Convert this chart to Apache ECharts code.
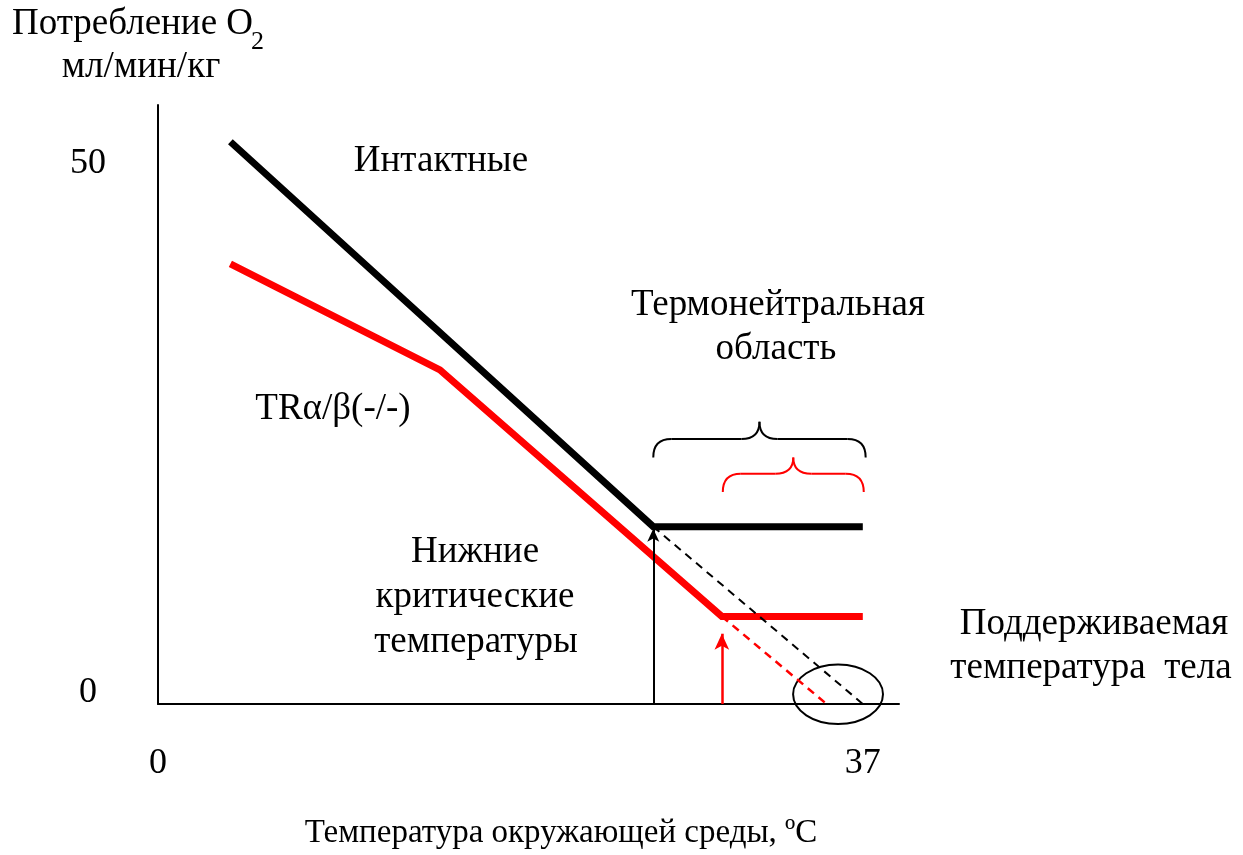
<!DOCTYPE html>
<html>
<head>
<meta charset="utf-8">
<script src="https://cdn.jsdelivr.net/npm/echarts@6/dist/echarts.min.js"></script>
<style>
    html, body { margin: 0; background: #fff; }
    #chart { width: 1243px; height: 855px; }
</style>
</head>
<body>
<div id="chart"></div>
<script>
// tick labels
var xTicks = [0, 37];
var yTicks = [0, 50];
// O2 consumption, intact animals
var intactLine = [[3.8, 52], [26, 16.4], [37, 16.4]];
// O2 consumption, TRa/b knockout
var knockoutLine = [[3.8, 40.7], [14.8, 30.9], [29.6, 8.1], [37, 8.1]];
// extrapolation to zero consumption
var intactExtrap = [[26, 16.4], [37, 0]];
var knockoutExtrap = [[29.6, 8.1], [35.1, 0]];
// lower critical temperature arrows
var intactArrow = [[26, 0], [26, 16.2]];
var knockoutArrow = [[29.6, 0], [29.6, 6.5]];

var FONT = "'Liberation Serif', 'Times New Roman', serif";
var RED = '#ff0000';

var chart = echarts.init(document.getElementById('chart'));

chart.setOption({
    animation: false,
    backgroundColor: '#fff',
    grid: { left: 158, right: 344, top: 105, bottom: 151 },
    xAxis: {
        type: 'value',
        min: 0,
        max: 38.9,
        splitLine: { show: false },
        axisTick: { show: false },
        axisLine: { lineStyle: { color: '#000', width: 2 } },
        axisLabel: {
            customValues: xTicks,
            margin: 42,
            color: '#000',
            fontSize: 36,
            fontFamily: FONT
        }
    },
    yAxis: {
        type: 'value',
        min: 0,
        max: 55.4,
        splitLine: { show: false },
        axisTick: { show: false },
        axisLine: { lineStyle: { color: '#000', width: 2 } },
        axisLabel: {
            customValues: yTicks,
            margin: 70,
            align: 'center',
            color: '#000',
            fontSize: 36,
            fontFamily: FONT,
            formatter: function (v) {
                return v === 0 ? '{z|0}' : '{n|' + v + '}';
            },
            rich: {
                z: { fontSize: 36, fontFamily: FONT, color: '#000', padding: [0, 0, 22, 0] },
                n: { fontSize: 36, fontFamily: FONT, color: '#000' }
            }
        }
    },
    series: [
        {
            type: 'line',
            data: intactLine,
            symbol: 'none',
            lineStyle: { color: '#000', width: 7, join: 'miter' }
        },
        {
            type: 'line',
            data: knockoutLine,
            symbol: 'none',
            lineStyle: { color: RED, width: 7, join: 'miter' }
        },
        {
            type: 'line',
            data: intactExtrap,
            symbol: 'none',
            lineStyle: { color: '#000', width: 2, type: [8, 6] }
        },
        {
            type: 'line',
            data: knockoutExtrap,
            symbol: 'none',
            lineStyle: { color: RED, width: 2.5, type: [8, 6] }
        },
        {
            type: 'line',
            data: [],
            markLine: {
                silent: true,
                symbol: ['none', 'arrow'],
                symbolSize: [9, 13],
                label: { show: false },
                lineStyle: { color: '#000', width: 2, type: 'solid' },
                data: [[{ coord: intactArrow[0] }, { coord: intactArrow[1] }]]
            }
        },
        {
            type: 'line',
            data: [],
            markLine: {
                silent: true,
                symbol: ['none', 'arrow'],
                symbolSize: [11, 16],
                label: { show: false },
                lineStyle: { color: RED, width: 2.5, type: 'solid' },
                data: [[{ coord: knockoutArrow[0] }, { coord: knockoutArrow[1] }]]
            }
        }
    ]
});

function toPx(x, y) {
    return chart.convertToPixel({ gridIndex: 0 }, [x, y]);
}

// фигурная скобка над термонейтральной областью
function brace(x0, x1, base, bar, tip, color) {
    var a = toPx(x0, base), b = toPx(x1, base);
    var yh = toPx(0, bar)[1], yt = toPx(0, tip)[1];
    var xm = (a[0] + b[0]) / 2, r = 18;
    var st = { stroke: color, lineWidth: 2, fill: null };
    function curve(x1, y1, x2, y2, cx, cy) {
        return { type: 'bezierCurve', shape: { x1: x1, y1: y1, x2: x2, y2: y2, cpx1: cx, cpy1: cy }, style: st };
    }
    function seg(x1, y1, x2, y2) {
        return { type: 'line', shape: { x1: x1, y1: y1, x2: x2, y2: y2 }, style: st };
    }
    return [
        curve(a[0], a[1], a[0] + r, yh, a[0], yh),
        seg(a[0] + r, yh, xm - r, yh),
        curve(xm - r, yh, xm, yt, xm, yh),
        curve(xm, yt, xm + r, yh, xm, yh),
        seg(xm + r, yh, b[0] - r, yh),
        curve(b[0] - r, yh, b[0], b[1], b[0], yh)
    ];
}

function label(text, x, y, align, size) {
    return {
        type: 'text',
        x: x,
        y: y,
        style: {
            text: text,
            fill: '#000',
            font: (size || 37) + 'px ' + FONT,
            align: align || 'center',
            verticalAlign: 'middle'
        }
    };
}

var c = toPx(35.7, 0.9);
var r0 = toPx(0, 0), rr = toPx(2.36, 2.75);
var graphics = [
    {
        type: 'ellipse',
        shape: { cx: c[0], cy: c[1], rx: rr[0] - r0[0], ry: r0[1] - rr[1] },
        style: { stroke: '#000', lineWidth: 2, fill: null }
    },
    label('Потребление O', 12, 24, 'left'),
    label('2', 251, 42, 'left', 26),
    label('мл/мин/кг', 141, 67),
    label('Интактные', 441, 161),
    label('Термонейтральная', 778, 305),
    label('область', 776, 349),
    label('TRα/β(-/-)', 333, 409),
    label('Нижние', 475, 552),
    label('критические', 475, 597),
    label('температуры', 476, 642),
    label('Поддерживаемая', 1094, 624),
    label('температура  тела', 1091, 668),
    label('Температура окружающей среды, ºC', 561, 833, 'center', 33)
];
graphics = graphics.concat(brace(26, 37.15, 22.8, 24.5, 26.1, '#000'));
graphics = graphics.concat(brace(29.65, 37.05, 19.6, 21.3, 22.8, RED));

chart.setOption({ graphic: graphics });
</script>
</body>
</html>
